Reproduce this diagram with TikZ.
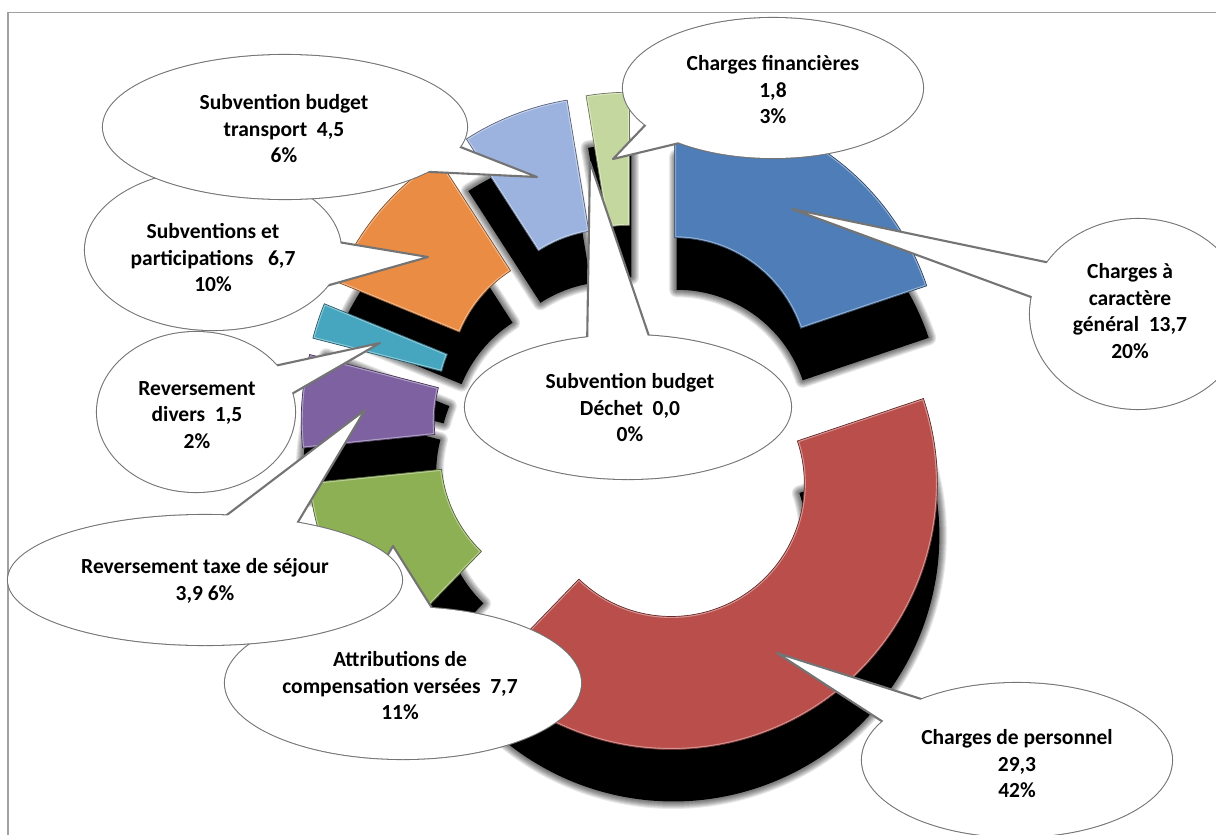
\documentclass[tikz,border=0pt]{standalone}
\usepackage{fontspec}
\setmainfont{Carlito}
\usetikzlibrary{calc,shapes.geometric}
\definecolor{cBlue}{HTML}{4E7DB7}
\definecolor{cRed}{HTML}{BA4E4B}
\definecolor{cGreen}{HTML}{8EB054}
\definecolor{cPurple}{HTML}{7D61A0}
\definecolor{cTeal}{HTML}{46A6C0}
\definecolor{cOrange}{HTML}{EA8C44}
\definecolor{cLBlue}{HTML}{9BB3DE}
\definecolor{cLGreen}{HTML}{C4D79F}
\definecolor{cLine}{HTML}{747474}
\definecolor{cFrame}{HTML}{A0A0A0}
\newcommand\RingOut{266}
\newcommand\RingIn{133}
\newcommand\ringpath[3]{($(#1)+(#2:\RingOut)$) arc[start angle=#2, end angle=#3, radius=\RingOut] -- ($(#1)+(#3:\RingIn)$) arc[start angle=#3, end angle=#2, radius=\RingIn] -- cycle}
\tikzset{
  callout/.style 2 args={ellipse, draw=cLine, line width=2.1pt, fill=white, inner sep=0pt, minimum width=#1, minimum height=#2},
  calloutfill/.style 2 args={ellipse, fill=white, inner sep=0pt, minimum width=#1, minimum height=#2},
  pointer/.style={draw=cLine, line width=2.1pt, fill=white, line join=round},
  calltext/.style={align=center, font=\fontsize{21.5}{26.5}\selectfont\bfseries, inner sep=0pt, text=black},
}
\begin{document}
\begin{tikzpicture}[x=1pt,y=-1pt]
\useasboundingbox (0,0) rectangle (1216,835);
\fill[white] (0,0) rectangle (1216,835);
\draw[cFrame, line width=1.2pt] (8,840) -- (8,12.5) -- (1222,12.5);
\coordinate (C) at (635,426);
% shadows (soft edge built from several translucent strokes)
\foreach \nm/\ta/\tb in {bl/0/71.375, rd/71.375/224.023, gr/224.023/264.139, pu/264.139/284.457, te/284.457/292.272, or/292.272/327.178, lb/327.178/350.622, lg/350.622/360}{
  \pgfmathsetmacro\sA{\ta-90}
  \pgfmathsetmacro\sB{\tb-90}
  \pgfmathsetmacro\sM{(\ta+\tb)/2-90}
  \coordinate (sh) at ($(C)+(\sM:68)+(2,52)$);
  \foreach \w in {15,13,11,9,7,5,3}{
    \draw[black, opacity=0.09, line width=\w pt, line join=round] \ringpath{sh}{\sA}{\sB};
  }
  \fill[black] \ringpath{sh}{\sA}{\sB};
}
% slices
\foreach \nm/\ta/\tb/\col in {bl/0/71.375/cBlue, rd/71.375/224.023/cRed, gr/224.023/264.139/cGreen, pu/264.139/284.457/cPurple, te/284.457/292.272/cTeal, or/292.272/327.178/cOrange, lb/327.178/350.622/cLBlue, lg/350.622/360/cLGreen}{
  \pgfmathsetmacro\sA{\ta-90}
  \pgfmathsetmacro\sB{\tb-90}
  \pgfmathsetmacro\sM{(\ta+\tb)/2-90}
  \coordinate (\nm) at ($(C)+(\sM:68)$);
  \fill[\col] \ringpath{\nm}{\sA}{\sB};
  \begin{scope}
    \clip \ringpath{\nm}{\sA}{\sB};
    \draw[\col!50!white, opacity=0.8, line width=3pt] \ringpath{\nm}{\sA}{\sB};
  \end{scope}
  \draw[\col!55!black, line width=0.7pt, line join=round] \ringpath{\nm}{\sA}{\sB};
}
% Charges financieres
\node[callout={300}{140}] (cf) at (773,88) {};
\coordinate (cftip) at (613,159);
\coordinate (cfb1) at (652,118);
\coordinate (cfb2) at (692,140);
\draw[pointer] (cfb1) -- (cftip) -- (cfb2) -- cycle;
\node[calloutfill={300}{140}] (cff) at (cf) {};
\node[calltext] (cft) at (773,90) {Charges financières\\1,8\\3\%};
% Charges a caractere general
\node[callout={216}{190}] (cg) at (1138,314) {};
\coordinate (cgtip) at (792,209);
\coordinate (cgb1) at (1060,265);
\coordinate (cgb2) at (1050,304);
\draw[pointer] (cgb1) -- (cgtip) -- (cgb2) -- cycle;
\node[calloutfill={216}{190}] (cgf) at (cg) {};
\node[calltext] (cgt) at (1130,311) {Charges à\\caractère\\général\ \ 13,7\\20\%};
% Subvention budget Dechet
\node[callout={326}{144}] (dc) at (628,407) {};
\coordinate (dctip) at (590,162);
\coordinate (dcb1) at (587,350);
\coordinate (dcb2) at (652,345);
\draw[pointer] (dcb1) -- (dctip) -- (dcb2) -- cycle;
\node[calloutfill={326}{144}] (dcf) at (dc) {};
\node[calltext] (dct) at (630,408) {Subvention budget\\Déchet\ \ 0,0\\0\%};
% Subventions et participations
\node[callout={256}{160}] (sp) at (213,250) {};
\coordinate (sptip) at (428,257);
\coordinate (spb1) at (320,239);
\coordinate (spb2) at (319,288);
\draw[pointer] (spb1) -- (sptip) -- (spb2) -- cycle;
\node[calloutfill={256}{160}] (spf) at (sp) {};
\node[calltext] (spt) at (213,258) {Subventions et\\participations\ \ \ 6,7\\10\%};
% Subvention budget transport
\node[callout={364}{144}] (tr) at (285,127) {};
\coordinate (trtip) at (537,177);
\coordinate (trb1) at (440,139);
\coordinate (trb2) at (410,171);
\draw[pointer] (trb1) -- (trtip) -- (trb2) -- cycle;
\node[calloutfill={364}{144}] (trf) at (tr) {};
\node[calltext] (trt) at (284,129) {Subvention budget\\transport\ \ 4,5\\6\%};
% Reversement divers
\node[callout={198}{160}] (dv) at (196,412) {};
\coordinate (dvtip) at (380,343);
\coordinate (dvb1) at (265,368);
\coordinate (dvb2) at (283,399);
\draw[pointer] (dvb1) -- (dvtip) -- (dvb2) -- cycle;
\node[calloutfill={198}{160}] (dvf) at (dv) {};
\node[calltext] (dvt) at (197,415) {Reversement\\divers\ \ 1,5\\2\%};
% Attributions de compensation
\node[callout={356}{152}] (ac) at (403,683) {};
\coordinate (actip) at (393,546);
\coordinate (acb1) at (350,620);
\coordinate (acb2) at (437,616);
\draw[pointer] (acb1) -- (actip) -- (acb2) -- cycle;
\node[calloutfill={356}{152}] (acf) at (ac) {};
\node[calltext] (act) at (400,686) {Attributions de\\compensation versées\ \ 7,7\\11\%};
% Reversement taxe de sejour
\node[callout={394}{130}] (tx) at (205,580) {};
\coordinate (txtip) at (365,410);
\coordinate (txb1) at (215,524);
\coordinate (txb2) at (292,532);
\draw[pointer] (txb1) -- (txtip) -- (txb2) -- cycle;
\node[calloutfill={394}{130}] (txf) at (tx) {};
\node[calltext] (txt) at (205,581) {Reversement taxe de séjour\\3,9 6\%};
% Charges de personnel
\node[callout={310}{154}] (cp) at (1017,760) {};
\coordinate (cptip) at (777,653);
\coordinate (cpb1) at (940,705);
\coordinate (cpb2) at (900,733);
\draw[pointer] (cpb1) -- (cptip) -- (cpb2) -- cycle;
\node[calloutfill={310}{154}] (cpf) at (cp) {};
\node[calltext] (cpt) at (1017,764) {Charges de personnel\\29,3\\42\%};
\end{tikzpicture}
\end{document}
